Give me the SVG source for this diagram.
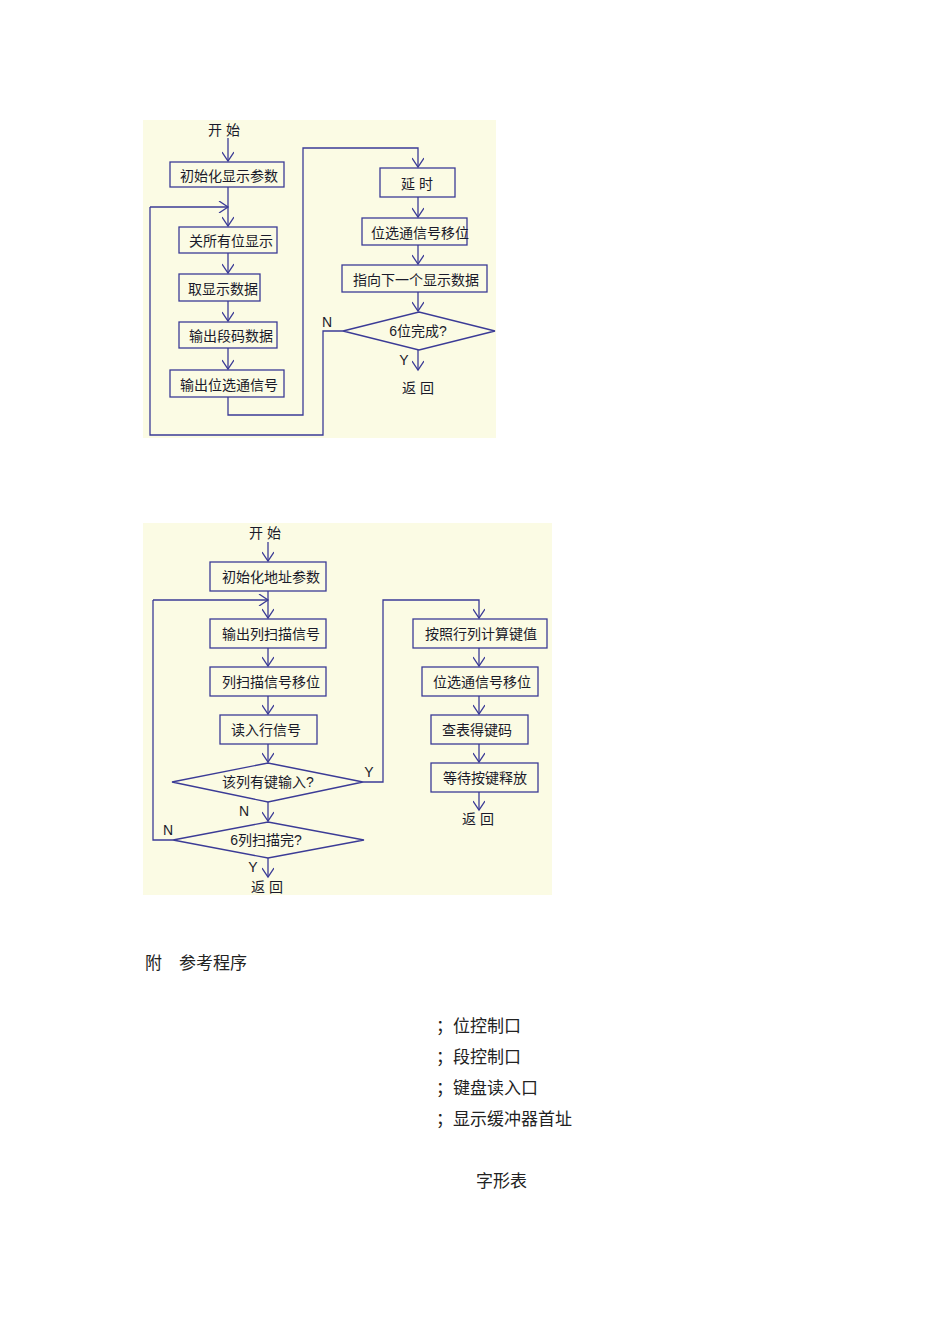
<svg xmlns="http://www.w3.org/2000/svg" width="950" height="1344" viewBox="0 0 950 1344">
<style>
.bg{fill:#fbfbe4}
.n rect,.n polygon{fill:none;stroke:#3b3b96;stroke-width:1.3}
.c path{fill:none;stroke:#3b3b96;stroke-width:1.3}
text{font-family:"Liberation Sans","Noto Sans CJK SC",sans-serif;font-size:14px;fill:#1a1a2a;text-anchor:middle}
.d{font-family:"Liberation Serif","Noto Sans CJK SC",serif;font-size:17px;text-anchor:start;fill:#222}
</style>
<defs><marker id="a" markerWidth="12" markerHeight="12" refX="10" refY="6" orient="auto" markerUnits="userSpaceOnUse"><path d="M1,0 L10,6 L1,12" fill="none" stroke="#3b3b96" stroke-width="1.3"/></marker></defs>
<rect class="bg" x="143" y="120" width="353" height="318"/>
<rect class="bg" x="143" y="523" width="409" height="372"/>
<g class="c">
<path d="M228,138 V161" marker-end="url(#a)"/>
<path d="M228,187 V226" marker-end="url(#a)"/>
<path d="M150,207 H228" marker-end="url(#a)"/>
<path d="M228,253 V273" marker-end="url(#a)"/>
<path d="M228,301 V321" marker-end="url(#a)"/>
<path d="M228,348 V369" marker-end="url(#a)"/>
<path d="M228,397 V415 H303 V148 H418 V167" marker-end="url(#a)"/>
<path d="M418,197 V217" marker-end="url(#a)"/>
<path d="M418,245 V264" marker-end="url(#a)"/>
<path d="M418,292 V311" marker-end="url(#a)"/>
<path d="M343,331 H323 V435 H150 V207"/>
<path d="M418,350 V370" marker-end="url(#a)"/>
<path d="M268,542 V561" marker-end="url(#a)"/>
<path d="M268,591 V618" marker-end="url(#a)"/>
<path d="M153,600 H268" marker-end="url(#a)"/>
<path d="M268,648 V666" marker-end="url(#a)"/>
<path d="M268,696 V714" marker-end="url(#a)"/>
<path d="M268,744 V762" marker-end="url(#a)"/>
<path d="M363,782 H383 V600 H479 V618" marker-end="url(#a)"/>
<path d="M268,802 V821" marker-end="url(#a)"/>
<path d="M173,840 H153 V600"/>
<path d="M268,858 V877" marker-end="url(#a)"/>
<path d="M479,648 V666" marker-end="url(#a)"/>
<path d="M479,696 V714" marker-end="url(#a)"/>
<path d="M479,744 V762" marker-end="url(#a)"/>
<path d="M479,792 V810" marker-end="url(#a)"/>
</g>
<g id="n1s"><text x="224" y="135">开 始</text></g>
<g id="n1a" class="n"><rect x="170" y="162" width="114" height="25"/><text x="229" y="181">初始化显示参数</text></g>
<g id="n1b" class="n"><rect x="179" y="227" width="98" height="26"/><text x="231" y="246">关所有位显示</text></g>
<g id="n1c" class="n"><rect x="179" y="274" width="81" height="27"/><text x="223" y="294">取显示数据</text></g>
<g id="n1d" class="n"><rect x="179" y="322" width="98" height="26"/><text x="231" y="341">输出段码数据</text></g>
<g id="n1e" class="n"><rect x="170" y="370" width="114" height="27"/><text x="229" y="390">输出位选通信号</text></g>
<g id="n1f" class="n"><rect x="380" y="168" width="75" height="29"/><text x="417" y="189">延 时</text></g>
<g id="n1g" class="n"><rect x="362" y="218" width="105" height="27"/><text x="420" y="238">位选通信号移位</text></g>
<g id="n1h" class="n"><rect x="342" y="265" width="145" height="27"/><text x="416" y="285">指向下一个显示数据</text></g>
<g id="n1i" class="n"><polygon points="343,331 419,312 495,331 419,350"/><text x="418" y="336">6位完成?</text></g>
<text x="327" y="327">N</text><text x="404" y="365">Y</text>
<g id="n1r"><text x="418" y="393">返 回</text></g>
<g id="n2s"><text x="265" y="538">开 始</text></g>
<g id="n2a" class="n"><rect x="210" y="562" width="116" height="29"/><text x="271" y="582">初始化地址参数</text></g>
<g id="n2b" class="n"><rect x="210" y="619" width="116" height="29"/><text x="271" y="639">输出列扫描信号</text></g>
<g id="n2c" class="n"><rect x="210" y="667" width="116" height="29"/><text x="271" y="687">列扫描信号移位</text></g>
<g id="n2d" class="n"><rect x="220" y="715" width="97" height="29"/><text x="266" y="735">读入行信号</text></g>
<g id="n2e" class="n"><polygon points="172,782 268,763 363,782 268,802"/><text x="268" y="787">该列有键输入?</text></g>
<g id="n2f" class="n"><polygon points="173,840 268,822 364,840 268,858"/><text x="266" y="845">6列扫描完?</text></g>
<text x="369" y="777">Y</text><text x="244" y="816">N</text><text x="168" y="835">N</text><text x="253" y="872">Y</text>
<g id="n2r"><text x="267" y="892">返 回</text></g>
<g id="n2g" class="n"><rect x="413" y="619" width="134" height="29"/><text x="481" y="639">按照行列计算键值</text></g>
<g id="n2h" class="n"><rect x="422" y="667" width="116" height="29"/><text x="482" y="687">位选通信号移位</text></g>
<g id="n2i" class="n"><rect x="431" y="715" width="97" height="29"/><text x="477" y="735">查表得键码</text></g>
<g id="n2j" class="n"><rect x="431" y="763" width="107" height="29"/><text x="485" y="783">等待按键释放</text></g>
<g id="n2r2"><text x="478" y="824">返 回</text></g>
<text class="d" x="145" y="969">附　参考程序</text>
<text class="d" x="436" y="1032">；位控制口</text>
<text class="d" x="436" y="1063">；段控制口</text>
<text class="d" x="436" y="1094">；键盘读入口</text>
<text class="d" x="436" y="1125">；显示缓冲器首址</text>
<text class="d" x="476" y="1187">字形表</text>
</svg>
